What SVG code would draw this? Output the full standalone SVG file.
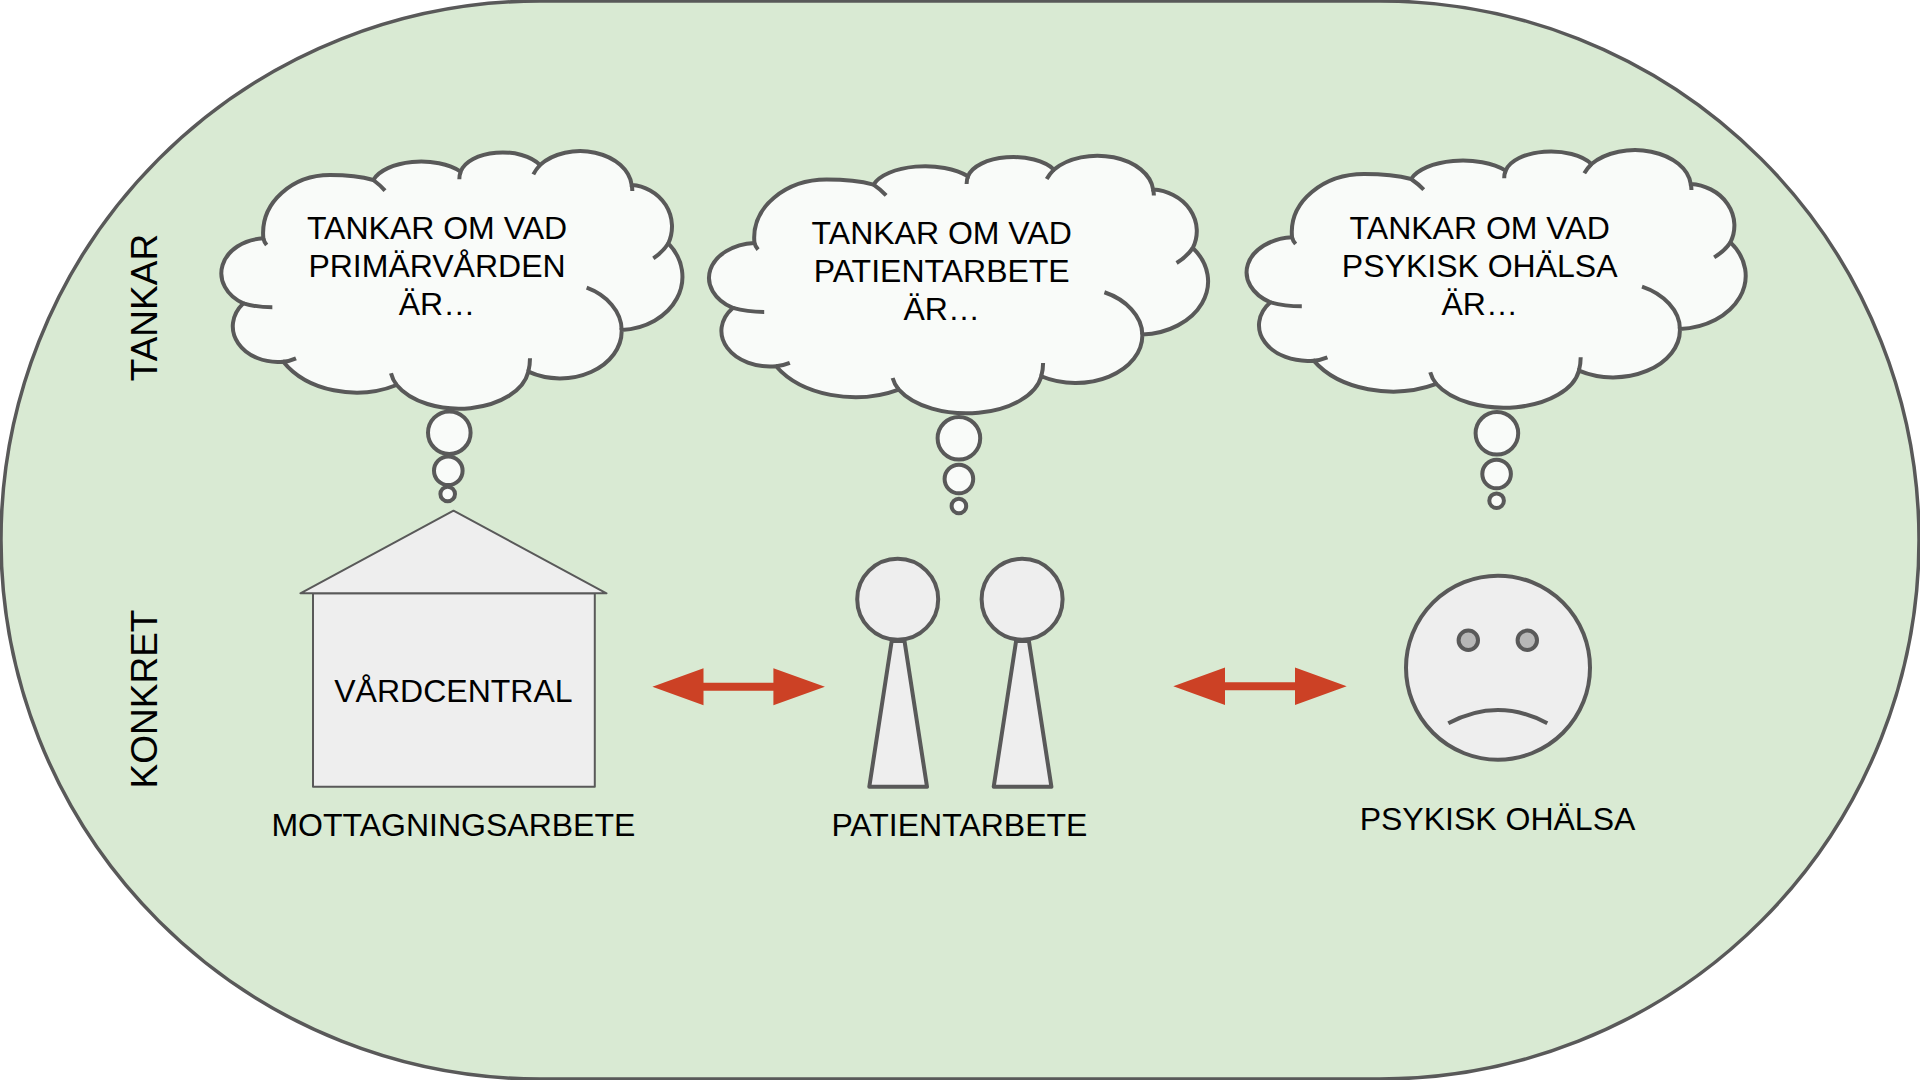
<svg xmlns="http://www.w3.org/2000/svg" xmlns:xlink="http://www.w3.org/1999/xlink" width="1920" height="1080" viewBox="0 0 1920 1080">
<style>
text{font-family:"Liberation Sans",Arial,sans-serif;font-size:32px;fill:#000;text-anchor:middle}
.o{stroke:#595959;stroke-width:4;fill:#eeeeee}
.c{stroke:#595959;stroke-width:4;fill:#f9fbf9}
.t{stroke:#595959;stroke-width:2;fill:#eeeeee}
.a{fill:#cc4125}
.cl{fill:#f9fbf9;stroke:#595959;stroke-width:4;vector-effect:non-scaling-stroke}
.h{fill:none;stroke:#595959;stroke-width:4;vector-effect:non-scaling-stroke}
.v{font-size:37px}
</style>
<defs>
<g id="cloud">
<path class="cl" d="M190 325C180 215 280 135 390 135C440 135 485 140 520 150A150 78 0 0 1 782 125A128 72 0 0 1 1020 105A155 112 0 0 1 1295 165A130 125 0 0 1 1405 340A192 160 0 0 1 1265 600A185 142 0 0 1 985 725A210 130 0 0 1 590 765A255 190 0 0 1 250 695A135 107 0 0 1 130 520A135 105 0 0 1 190 325Z"/>
<path class="h" d="M190 325Q192 335 200 345M520 150Q540 165 555 182M782 125Q778 135 778 148M1020 105Q1008 118 1000 133M1295 165Q1297 175 1297 183M1405 340Q1390 365 1360 385M1265 600C1265 545 1220 495 1160 473M985 725Q990 705 990 685M590 765Q578 750 573 730M250 695Q270 693 288 685M130 520Q170 532 217 532"/>
</g>
</defs>
<g id="background"><rect x="1" y="1" width="1918" height="1078" rx="539" ry="539" fill="#d9ead3" stroke="#595959" stroke-width="3.500"/></g>
<g id="label-tankar"><text class="v" transform="translate(157 307.500) rotate(-90)">TANKAR</text></g>
<g id="label-konkret"><text class="v" transform="translate(157 699) rotate(-90)">KONKRET</text></g>
<g id="thought-1">
<use xlink:href="#cloud" href="#cloud" transform="translate(200 130) scale(.33333)"/>
<circle class="c" cx="449.300" cy="432.700" r="21.300"/><circle class="c" cx="448.300" cy="470.700" r="14.300"/><circle class="c" cx="447.700" cy="494" r="7.300"/>
<text x="437" y="238.800">TANKAR OM VAD</text><text x="437" y="276.700">PRIMÄRVÅRDEN</text><text x="437" y="315">ÄR…</text>
</g>
<g id="thought-2">
<use xlink:href="#cloud" href="#cloud" transform="translate(685.900 134.600) scale(.3608 .33333)"/>
<circle class="c" cx="958.900" cy="438.300" r="21.300"/><circle class="c" cx="958.900" cy="479" r="14.300"/><circle class="c" cx="958.900" cy="506" r="7.300"/>
<text x="941.700" y="244">TANKAR OM VAD</text><text x="941.700" y="282">PATIENTARBETE</text><text x="941.700" y="320">ÄR…</text>
</g>
<g id="thought-3">
<use xlink:href="#cloud" href="#cloud" transform="translate(1223.500 129) scale(.3608 .33333)"/>
<circle class="c" cx="1496.900" cy="433.300" r="21.300"/><circle class="c" cx="1496.600" cy="474" r="14.300"/><circle class="c" cx="1496.600" cy="500.700" r="7.300"/>
<text x="1479.700" y="238.700">TANKAR OM VAD</text><text x="1479.700" y="276.700">PSYKISK OHÄLSA</text><text x="1479.700" y="315">ÄR…</text>
</g>
<g id="vardcentral">
<path class="t" stroke-linejoin="round" d="M313 593.300H594.800V786.700H313Z"/>
<path class="t" stroke-linejoin="round" d="M453.500 510.700L606.500 593.300H300.400Z"/>
<text x="453.400" y="701.700">VÅRDCENTRAL</text>
<text x="453.400" y="836">MOTTAGNINGSARBETE</text>
</g>
<g id="patient">
<path class="o" stroke-linejoin="round" d="M891.700 641H904.500L927 786.700H869.300Z"/>
<circle class="o" cx="897.700" cy="599.300" r="40.500"/>
<path class="o" stroke-linejoin="round" d="M1016.100 641H1028.900L1051.400 786.700H993.700Z"/>
<circle class="o" cx="1022.100" cy="599.300" r="40.500"/>
<text x="959.400" y="836">PATIENTARBETE</text>
</g>
<g id="face">
<circle class="o" cx="1498" cy="667.700" r="92"/>
<circle cx="1468.300" cy="640.300" r="9.700" fill="#b7b7b7" stroke="#595959" stroke-width="4"/>
<circle cx="1527.300" cy="640.300" r="9.700" fill="#b7b7b7" stroke="#595959" stroke-width="4"/>
<path d="M1448.300 723.300Q1498 696.700 1547.300 723.300" fill="none" stroke="#595959" stroke-width="4"/>
<text x="1497.500" y="830">PSYKISK OHÄLSA</text>
</g>
<g id="connectors">
<path class="a" d="M652.400 686.700L703.500 668.200V682.700H773.400V668.200L824.900 686.700L773.400 705.200V690.700H703.500V705.200Z"/>
<path class="a" d="M1173.300 686.300L1225 667.600V682.300H1295V667.600L1346.700 686.300L1295 705V690.300H1225V705Z"/>
</g>
</svg>
